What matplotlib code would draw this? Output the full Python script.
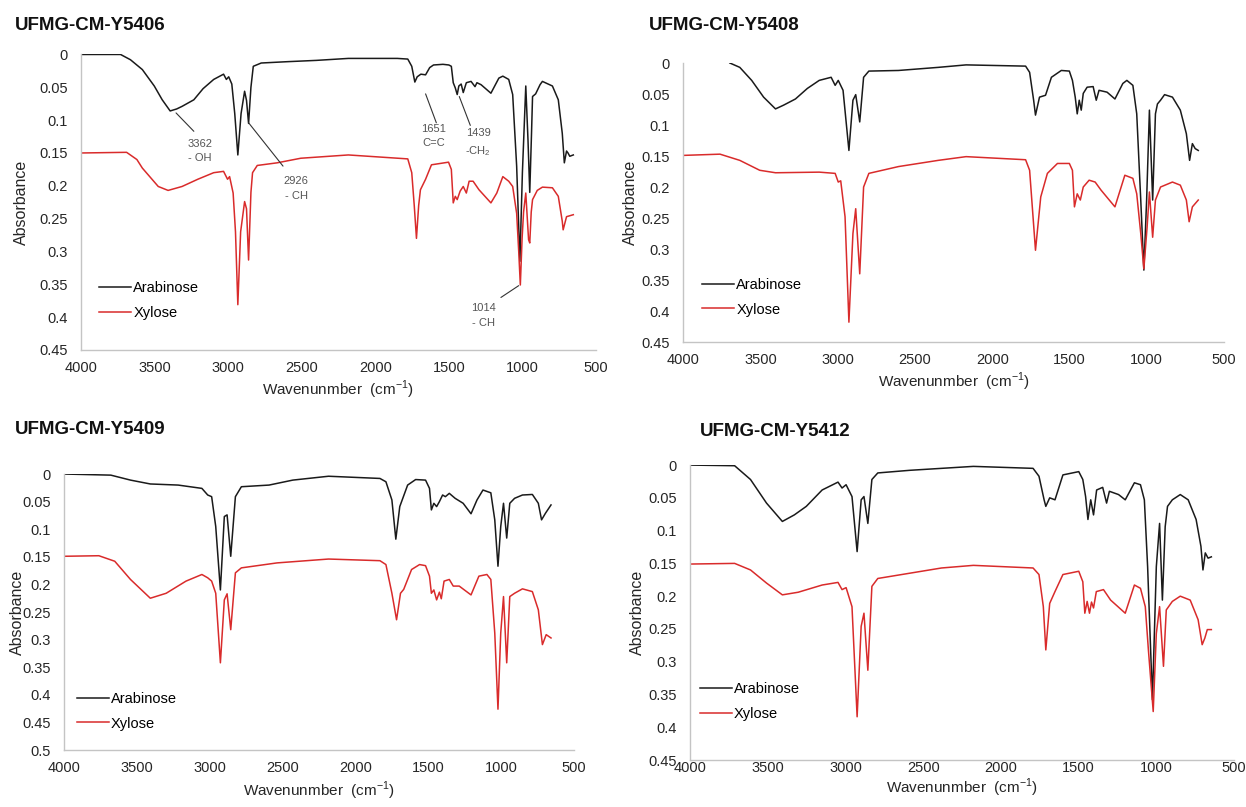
import matplotlib.pyplot as plt

plt.rcParams["font.family"] = ["Liberation Sans", "DejaVu Sans"]

# wavenumber (cm-1) and absorbance
y5406_ara_wn = [4000, 3731, 3664, 3583, 3502, 3448, 3394, 3350, 3313, 3233, 3170, 3098, 3031, 3012, 2996, 2975,
                2955, 2934, 2912, 2888, 2875, 2861, 2845, 2829, 2775, 2600, 2400, 2183, 2000, 1850, 1779, 1752,
                1731, 1715, 1690, 1658, 1630, 1604, 1540, 1500, 1483, 1470, 1456, 1443, 1432, 1416, 1402, 1381,
                1349, 1322, 1309, 1281, 1214, 1160, 1133, 1093, 1066, 1039, 1017, 1000, 977, 962, 950, 938, 931,
                910, 880, 864, 796, 756, 729, 715, 700, 690, 678, 654]
y5406_ara_abs = [0.000, 0.000, 0.008, 0.023, 0.048, 0.069, 0.086, 0.083, 0.079, 0.069, 0.052, 0.038, 0.030, 0.038,
                 0.034, 0.045, 0.090, 0.153, 0.090, 0.056, 0.070, 0.105, 0.050, 0.018, 0.013, 0.011, 0.009, 0.006,
                 0.006, 0.006, 0.007, 0.018, 0.042, 0.034, 0.030, 0.031, 0.020, 0.016, 0.015, 0.016, 0.018, 0.043,
                 0.051, 0.061, 0.048, 0.045, 0.058, 0.043, 0.041, 0.049, 0.043, 0.046, 0.059, 0.036, 0.033, 0.038,
                 0.061, 0.170, 0.315, 0.180, 0.048, 0.130, 0.210, 0.120, 0.064, 0.060, 0.046, 0.041, 0.048, 0.069,
                 0.120, 0.165, 0.147, 0.150, 0.155, 0.153]
y5406_xyl_wn = [4000, 3690, 3620, 3583, 3475, 3408, 3313, 3206, 3098, 3031, 3004, 2990, 2966, 2950, 2934, 2915,
                2888, 2875, 2861, 2845, 2834, 2802, 2667, 2506, 2183, 1779, 1752, 1735, 1720, 1705, 1693, 1658,
                1618, 1502, 1483, 1470, 1456, 1443, 1423, 1402, 1381, 1362, 1335, 1295, 1214, 1174, 1133, 1093,
                1066, 1039, 1025, 1014, 1002, 992, 977, 958, 950, 940, 931, 899, 864, 796, 756, 729, 723, 700, 654]
y5406_xyl_abs = [0.150, 0.149, 0.160, 0.173, 0.201, 0.207, 0.201, 0.190, 0.180, 0.178, 0.190, 0.186, 0.211, 0.270,
                 0.381, 0.270, 0.224, 0.235, 0.313, 0.210, 0.180, 0.169, 0.165, 0.158, 0.153, 0.159, 0.180, 0.230,
                 0.280, 0.230, 0.206, 0.190, 0.168, 0.164, 0.175, 0.226, 0.216, 0.221, 0.208, 0.201, 0.211, 0.193,
                 0.193, 0.206, 0.226, 0.211, 0.186, 0.193, 0.201, 0.242, 0.300, 0.351, 0.280, 0.240, 0.211, 0.282,
                 0.287, 0.240, 0.221, 0.207, 0.202, 0.203, 0.216, 0.254, 0.267, 0.247, 0.244]

y5408_ara_wn = [3697, 3633, 3556, 3479, 3402, 3350, 3273, 3196, 3119, 3042, 3016, 2996, 2965, 2927, 2901, 2883,
                2857, 2832, 2798, 2606, 2349, 2169, 1784, 1758, 1732, 1720, 1694, 1655, 1617, 1553, 1501, 1481,
                1463, 1450, 1437, 1424, 1411, 1386, 1347, 1327, 1309, 1257, 1206, 1155, 1129, 1090, 1065, 1039,
                1019, 1001, 983, 962, 944, 931, 911, 885, 834, 783, 744, 723, 705, 687, 667]
y5408_ara_abs = [0.000, 0.007, 0.028, 0.055, 0.074, 0.068, 0.058, 0.041, 0.028, 0.023, 0.036, 0.028, 0.044, 0.141,
                 0.060, 0.051, 0.095, 0.023, 0.013, 0.012, 0.007, 0.003, 0.005, 0.015, 0.060, 0.084, 0.055, 0.052,
                 0.023, 0.012, 0.013, 0.028, 0.055, 0.082, 0.060, 0.076, 0.049, 0.039, 0.038, 0.060, 0.044, 0.047,
                 0.058, 0.033, 0.028, 0.036, 0.082, 0.221, 0.334, 0.221, 0.076, 0.221, 0.082, 0.066, 0.060, 0.051,
                 0.055, 0.076, 0.114, 0.157, 0.130, 0.138, 0.141]
y5408_xyl_wn = [4000, 3761, 3633, 3504, 3402, 3119, 3016, 2996, 2980, 2952, 2927, 2901, 2883, 2857, 2832, 2798,
                2606, 2349, 2169, 1784, 1758, 1720, 1686, 1643, 1578, 1501, 1481, 1468, 1450, 1430, 1411, 1373,
                1334, 1296, 1206, 1142, 1090, 1065, 1039, 1019, 998, 983, 962, 944, 911, 834, 783, 744, 726, 705,
                667]
y5408_xyl_abs = [0.149, 0.147, 0.157, 0.173, 0.177, 0.176, 0.178, 0.192, 0.190, 0.248, 0.418, 0.275, 0.235, 0.340,
                 0.200, 0.178, 0.167, 0.157, 0.151, 0.156, 0.173, 0.302, 0.216, 0.178, 0.162, 0.162, 0.173, 0.232,
                 0.211, 0.221, 0.200, 0.189, 0.192, 0.205, 0.232, 0.181, 0.186, 0.211, 0.275, 0.332, 0.265, 0.208,
                 0.281, 0.221, 0.200, 0.192, 0.197, 0.221, 0.256, 0.232, 0.221]

y5409_ara_wn = [4000, 3679, 3544, 3408, 3217, 3054, 3014, 2987, 2959, 2927, 2900, 2881, 2856, 2824, 2783, 2593,
                2430, 2185, 1832, 1791, 1750, 1723, 1696, 1642, 1587, 1519, 1492, 1479, 1462, 1443, 1424, 1402,
                1383, 1356, 1316, 1261, 1207, 1166, 1125, 1071, 1044, 1022, 1003, 984, 962, 941, 908, 854, 786,
                745, 723, 696, 658]
y5409_ara_abs = [0.000, 0.002, 0.011, 0.018, 0.020, 0.026, 0.038, 0.041, 0.095, 0.210, 0.077, 0.074, 0.149, 0.041,
                 0.023, 0.020, 0.011, 0.004, 0.008, 0.014, 0.047, 0.118, 0.059, 0.020, 0.010, 0.011, 0.026, 0.065,
                 0.053, 0.059, 0.050, 0.038, 0.041, 0.035, 0.044, 0.053, 0.072, 0.047, 0.029, 0.034, 0.083, 0.167,
                 0.095, 0.053, 0.116, 0.053, 0.044, 0.038, 0.037, 0.053, 0.083, 0.071, 0.056]
y5409_xyl_wn = [4000, 3761, 3652, 3544, 3408, 3299, 3163, 3054, 3014, 2987, 2959, 2927, 2900, 2881, 2856, 2824,
                2783, 2538, 2185, 1832, 1791, 1750, 1718, 1691, 1669, 1615, 1560, 1519, 1492, 1479, 1462, 1443,
                1424, 1411, 1392, 1356, 1329, 1288, 1207, 1153, 1098, 1071, 1044, 1022, 1003, 984, 962, 941, 908,
                854, 786, 745, 717, 691, 658]
y5409_xyl_abs = [0.149, 0.148, 0.158, 0.191, 0.225, 0.216, 0.194, 0.182, 0.188, 0.194, 0.216, 0.342, 0.228, 0.217,
                 0.282, 0.179, 0.170, 0.161, 0.154, 0.157, 0.164, 0.216, 0.264, 0.216, 0.209, 0.173, 0.164, 0.166,
                 0.185, 0.216, 0.210, 0.228, 0.214, 0.226, 0.194, 0.191, 0.203, 0.203, 0.219, 0.185, 0.182, 0.191,
                 0.288, 0.426, 0.288, 0.222, 0.342, 0.222, 0.216, 0.208, 0.213, 0.246, 0.309, 0.291, 0.297]

y5412_ara_wn = [4000, 3713, 3611, 3508, 3406, 3329, 3252, 3150, 3048, 3022, 2996, 2958, 2925, 2899, 2881, 2856,
                2830, 2792, 2587, 2382, 2177, 1793, 1755, 1722, 1711, 1686, 1652, 1601, 1499, 1473, 1455, 1440,
                1422, 1404, 1384, 1345, 1320, 1302, 1243, 1200, 1141, 1102, 1077, 1056, 1025, 1000, 979, 961, 943,
                928, 897, 846, 795, 744, 713, 700, 685, 667, 646]
y5412_ara_abs = [0.000, 0.001, 0.022, 0.058, 0.086, 0.076, 0.063, 0.038, 0.026, 0.035, 0.030, 0.048, 0.132, 0.053,
                 0.048, 0.089, 0.022, 0.012, 0.008, 0.005, 0.002, 0.005, 0.017, 0.053, 0.063, 0.050, 0.053, 0.015,
                 0.010, 0.022, 0.048, 0.083, 0.053, 0.076, 0.038, 0.034, 0.058, 0.040, 0.045, 0.053, 0.027, 0.030,
                 0.053, 0.155, 0.358, 0.155, 0.089, 0.206, 0.094, 0.063, 0.053, 0.045, 0.053, 0.083, 0.124, 0.160,
                 0.134, 0.142, 0.140]
y5412_xyl_wn = [4000, 3713, 3611, 3508, 3406, 3304, 3150, 3048, 3022, 2996, 2958, 2925, 2899, 2881, 2856, 2830,
                2792, 2587, 2382, 2177, 1793, 1755, 1727, 1711, 1686, 1652, 1601, 1499, 1473, 1460, 1445, 1430,
                1417, 1404, 1386, 1340, 1294, 1200, 1141, 1102, 1071, 1051, 1020, 1000, 979, 954, 936, 897, 846,
                782, 731, 705, 688, 672, 646]
y5412_xyl_abs = [0.151, 0.150, 0.160, 0.180, 0.198, 0.194, 0.183, 0.179, 0.190, 0.187, 0.216, 0.384, 0.246, 0.226,
                 0.313, 0.185, 0.173, 0.165, 0.157, 0.153, 0.157, 0.167, 0.216, 0.282, 0.211, 0.193, 0.167, 0.162,
                 0.178, 0.226, 0.208, 0.226, 0.209, 0.218, 0.193, 0.190, 0.206, 0.226, 0.183, 0.188, 0.216, 0.282,
                 0.376, 0.257, 0.216, 0.307, 0.221, 0.208, 0.200, 0.206, 0.236, 0.274, 0.264, 0.251, 0.251]

x_ticks = [4000, 3500, 3000, 2500, 2000, 1500, 1000, 500]
y_ticks_045 = [0, 0.05, 0.1, 0.15, 0.2, 0.25, 0.3, 0.35, 0.4, 0.45]
y_ticks_050 = [0, 0.05, 0.1, 0.15, 0.2, 0.25, 0.3, 0.35, 0.4, 0.45, 0.5]

# peak labels on the first strain: text, line start, line end, text position
y5406_peaks = [
    ("3362\n- OH", (3354, 0.089), (3233, 0.117), (3192, 0.147)),
    ("2926\n- CH", (2861, 0.104), (2627, 0.170), (2538, 0.204)),
    ("1651\nC=C", (1658, 0.060), (1585, 0.104), (1605, 0.124)),
    ("1439\n-CH$_\\mathregular{2}$", (1429, 0.064), (1354, 0.108), (1300, 0.135)),
    ("1014\n- CH", (1025, 0.352), (1146, 0.370), (1267, 0.397)),
]

# layout of each panel (figure fractions) and its title spot
panels = [
    ("UFMG-CM-Y5406", y5406_ara_wn, y5406_ara_abs, y5406_xyl_wn, y5406_xyl_abs, y_ticks_045,
     [0.0650, 0.5663, 0.4133, 0.3662], (15, 25), (0.035, 0.166), -0.115, -0.135, 8),
    ("UFMG-CM-Y5408", y5408_ara_wn, y5408_ara_abs, y5408_xyl_wn, y5408_xyl_abs, y_ticks_045,
     [0.5482, 0.5762, 0.4342, 0.3457], (649, 25), (0.035, 0.161), -0.098, -0.143, 8),
    ("UFMG-CM-Y5409", y5409_ara_wn, y5409_ara_abs, y5409_xyl_wn, y5409_xyl_abs, y_ticks_050,
     [0.0514, 0.0706, 0.4093, 0.3420], (15, 430), (0.025, 0.141), -0.092, -0.149, 8),
    ("UFMG-CM-Y5412", y5412_ara_wn, y5412_ara_abs, y5412_xyl_wn, y5412_xyl_abs, y_ticks_045,
     [0.5538, 0.0582, 0.4366, 0.3655], (700, 431), (0.018, 0.197), -0.097, -0.093, 0.5),
]

W, H = 1246, 807
fig = plt.figure(figsize=(W / 100, H / 100), dpi=100)

for title, ara_wn, ara_abs, xyl_wn, xyl_abs, y_ticks, box, title_px, leg_pos, ylab_x, xlab_y, xpad in panels:
    ax = fig.add_axes(box)
    ax.plot(ara_wn, ara_abs, color="#1a1a1a", lw=1.1, label="Arabinose")
    ax.plot(xyl_wn, xyl_abs, color="#d92b2b", lw=1.1, label="Xylose")

    ax.set_xlim(4000, 500)
    ax.set_ylim(y_ticks[-1], 0)
    ax.set_xticks(x_ticks)
    ax.set_yticks(y_ticks)
    ax.set_yticklabels([f"{v:g}" for v in y_ticks])
    ax.tick_params(axis="both", length=0, labelsize=10.5, labelcolor="#262626")
    ax.tick_params(axis="y", pad=9.5)
    ax.tick_params(axis="x", pad=xpad)

    for side in ["top", "right"]:
        ax.spines[side].set_visible(False)
    for side in ["left", "bottom"]:
        ax.spines[side].set_color("#c4c4c4")
        ax.spines[side].set_linewidth(1.0)

    ax.set_xlabel("Wavenunmber  (cm$^{\\mathregular{-1}}$)", fontsize=11, color="#262626")
    ax.set_ylabel("Absorbance", fontsize=11.5, color="#262626")
    ax.xaxis.set_label_coords(0.5, xlab_y)
    ax.xaxis.label.set_va("center")
    ax.yaxis.set_label_coords(ylab_x, 0.5)
    ax.yaxis.label.set_va("center")

    ax.legend(loc="center left", bbox_to_anchor=leg_pos, frameon=False, fontsize=10.5,
              handlelength=2.2, handletextpad=0.15, labelspacing=0.75, borderpad=0, borderaxespad=0)

    fig.text(title_px[0] / W, 1 - title_px[1] / H, title, fontsize=13.5, fontweight="bold",
             ha="left", va="center", color="#111111")

    if title == "UFMG-CM-Y5406":
        for label, start, end, text_pos in y5406_peaks:
            ax.annotate("", xy=start, xytext=end,
                        arrowprops=dict(arrowstyle="-", color="#333333", lw=0.8, shrinkA=0, shrinkB=0))
            ax.text(text_pos[0], text_pos[1], label, fontsize=8, color="#555555",
                    ha="center", va="center", linespacing=1.6)

fig.savefig("out.png", dpi=100)
